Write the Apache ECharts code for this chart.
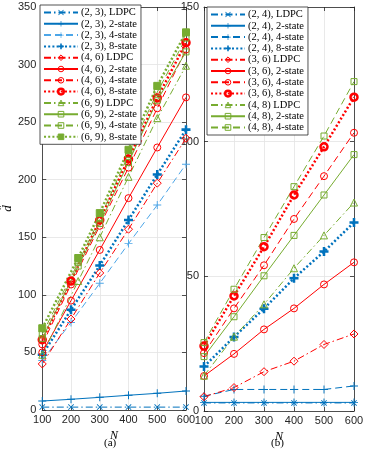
<!DOCTYPE html>
<html>
<head>
<meta charset="utf-8">
<script src="https://cdn.jsdelivr.net/npm/echarts@6/dist/echarts.min.js"></script>
<style>
  html, body { margin: 0; padding: 0; background: #fff; }
  #chart { width: 372px; height: 457px; }
</style>
</head>
<body>
<div id="chart"></div>
<script>
// block length N
const N = [100, 200, 300, 400, 500, 600];
const N69 = [100, 225, 300, 400, 500, 600];

// (a) d-hat values
const a23LDPC = [2.5, 2.5, 2.5, 2.5, 2.5, 2.5];
const a23s2 = [7.8, 9.3, 11, 12.8, 14.5, 16.5];
const a23s4 = [43, 76, 110, 144.5, 178, 213.5];
const a23s8 = [48, 87, 125.5, 165, 204.5, 243.5];
const a46LDPC = [40, 79, 119, 157, 197, 236];
const a46s2 = [50, 95, 139, 184, 228, 271.5];
const a46s4 = [57, 109, 160, 210.5, 262, 313];
const a46s8 = [61, 112, 165, 218, 271, 319];
const a69LDPC = [48, 112, 150, 202.5, 253.5, 299];
const a69s2 = [62, 125, 162, 215, 269, 311];
const a69s4 = [66, 128, 166, 222, 276, 323];
const a69s8 = [71, 132, 171, 226, 281.5, 328];

// (b) d-hat values
const b24LDPC = [3, 3, 3, 3, 3, 3];
const b24s2 = [3.2, 3.2, 3.2, 3.2, 3.2, 3.2];
const b24s4 = [5.5, 8, 8, 8, 8, 9.3];
const b24s8 = [16.5, 27.5, 38, 49.3, 59.2, 70];
const b36LDPC = [5.3, 8.7, 14.6, 18.5, 24.7, 28.6];
const b36s2 = [13, 21.2, 30.3, 38.1, 47, 55.2];
const b36s4 = [21.5, 38.1, 54.1, 71.3, 87.2, 103.3];
const b36s8 = [24.1, 42.7, 61, 80.2, 98.1, 116.5];
const b48LDPC = [13.1, 27.6, 39.6, 53, 65.2, 77.4];
const b48s2 = [20.2, 35, 50.2, 65.2, 80.2, 95.2];
const b48s4 = [25.4, 45.2, 64.4, 83.3, 102.1, 122.3];

const BLUE = '#0072BD';
const LBLUE = '#4DA6E8';
const RED = '#FF0000';
const GREEN = '#77AC30';
const AX = '#262626';
const GRIDC = '#e3e3e3';
const SANS = 'Liberation Sans, Arial, sans-serif';
const SERIF = 'Liberation Serif, Times New Roman, serif';

const DASHDOT = [7, 3, 1.5, 3];
const DASH = [7, 4];
const DOT = [2, 2.2];

const PLUS = 'path://M4.4,0H5.6V4.4H10V5.6H5.6V10H4.4V5.6H0V4.4H4.4Z';
const PLUSB = 'path://M3.6,0H6.4V3.6H10V6.4H6.4V10H3.6V6.4H0V3.6H3.6Z';
const XSYM = 'path://M0,1L1,0L5,4L9,0L10,1L6,5L10,9L9,10L5,6L1,10L0,9L4,5Z';
const CLEAR = 'rgba(0,0,0,0)';

function line(name, xs, ys, color, dash, width, symbol, size, filled, bw, ax) {
  return {
    name: name,
    type: 'line',
    xAxisIndex: ax,
    yAxisIndex: ax,
    data: xs.map((x, i) => [x, ys[i]]),
    symbol: symbol,
    symbolSize: size,
    showAllSymbol: true,
    lineStyle: { color: color, width: width, type: dash },
    itemStyle: { color: filled ? color : CLEAR, borderColor: color, borderWidth: bw },
    emphasis: { disabled: true }
  };
}

const seriesA = [
  line('(2, 3), LDPC', N, a23LDPC, BLUE, DASHDOT, 1, XSYM, 6, true, 0, 0),
  line('(2, 3), 2-state', N, a23s2, BLUE, 'solid', 1, PLUS, 8, true, 0, 0),
  line('(2, 3), 4-state', N, a23s4, LBLUE, DASH, 1, PLUS, 8, true, 0, 0),
  line('(2, 3), 8-state', N, a23s8, BLUE, DOT, 2.5, PLUSB, 9, true, 0, 0),
  line('(4, 6) LDPC', N, a46LDPC, RED, DASHDOT, 1, 'diamond', 8, false, 1, 0),
  line('(4, 6), 2-state', N, a46s2, RED, 'solid', 1, 'circle', 7, false, 1, 0),
  line('(4, 6), 4-state', N, a46s4, RED, DASH, 1, 'circle', 7, false, 1, 0),
  line('(4, 6), 8-state', N, a46s8, RED, DOT, 2.5, 'circle', 7, false, 2.5, 0),
  line('(6, 9) LDPC', N69, a69LDPC, GREEN, DASHDOT, 1, 'triangle', 7, false, 1, 0),
  line('(6, 9), 2-state', N69, a69s2, GREEN, 'solid', 1, 'rect', 6, false, 1, 0),
  line('(6, 9), 4-state', N69, a69s4, GREEN, DASH, 1, 'rect', 6, false, 1, 0),
  line('(6, 9), 8-state', N69, a69s8, GREEN, DOT, 2.5, 'rect', 7, true, 1, 0)
];

const seriesB = [
  line('(2, 4), LDPC', N, b24LDPC, BLUE, DASHDOT, 1, XSYM, 6, true, 0, 2),
  line('(2, 4), 2-state', N, b24s2, BLUE, 'solid', 1, PLUS, 8, true, 0, 2),
  line('(2, 4), 4-state', N, b24s4, BLUE, DASH, 1, PLUS, 8, true, 0, 2),
  line('(2, 4), 8-state', N, b24s8, BLUE, DOT, 2.5, PLUSB, 9, true, 0, 2),
  line('(3, 6) LDPC', N, b36LDPC, RED, DASHDOT, 1, 'diamond', 8, false, 1, 2),
  line('(3, 6), 2-state', N, b36s2, RED, 'solid', 1, 'circle', 7, false, 1, 2),
  line('(3, 6), 4-state', N, b36s4, RED, DASH, 1, 'circle', 7, false, 1, 2),
  line('(3, 6), 8-state', N, b36s8, RED, DOT, 2.5, 'circle', 7, false, 2.5, 2),
  line('(4, 8) LDPC', N, b48LDPC, GREEN, DASHDOT, 1, 'triangle', 7, false, 1, 2),
  line('(4, 8), 2-state', N, b48s2, GREEN, 'solid', 1, 'rect', 6, false, 1, 2),
  line('(4, 8), 4-state', N, b48s4, GREEN, DASH, 1, 'rect', 6, false, 1, 2)
];

function xAx(grid, pos, label) {
  return {
    gridIndex: grid, type: 'value', min: 100, max: 600, interval: 100, position: pos,
    axisLine: { show: true, onZero: false, lineStyle: { color: AX, width: 0.8 } },
    axisTick: { show: true, inside: true, length: 4, lineStyle: { color: AX, width: 0.8 } },
    axisLabel: { show: label, color: AX, fontSize: 11, fontFamily: SANS, margin: 4 },
    splitLine: { show: label, lineStyle: { color: GRIDC, width: 0.8 } },
    name: label ? 'N' : '', nameLocation: 'middle', nameGap: 14,
    nameTextStyle: { fontFamily: SERIF, fontStyle: 'italic', fontSize: 12, color: '#000' }
  };
}
function yAx(grid, pos, label, max, name, margin) {
  return {
    gridIndex: grid, type: 'value', min: 0, max: max, interval: 50, position: pos,
    axisLine: { show: true, onZero: false, lineStyle: { color: AX, width: 0.8 } },
    axisTick: { show: true, inside: true, length: 4, lineStyle: { color: AX, width: 0.8 } },
    axisLabel: { show: label, color: AX, fontSize: 11, fontFamily: SANS, margin: margin },
    splitLine: { show: label, lineStyle: { color: GRIDC, width: 0.8 } },
    name: name, nameLocation: 'middle', nameGap: 27, nameRotate: 90,
    nameTextStyle: { fontFamily: SERIF, fontStyle: 'italic', fontSize: 13, color: '#000' }
  };
}
function leg(list, left, top) {
  return {
    data: list.map(s => ({ name: s.name, itemStyle: s.itemStyle })),
    orient: 'vertical', left: left, top: top,
    itemWidth: 34, itemHeight: 7, itemGap: 0.3,
    padding: [2, 4, 2, 3],
    backgroundColor: '#fff', borderColor: AX, borderWidth: 0.8,
    textStyle: { fontFamily: SERIF, fontSize: 10.5, lineHeight: 11, color: '#000', padding: [0, 0, 0, -2] }
  };
}

const chart = echarts.init(document.getElementById('chart'), null, { renderer: 'canvas' });
chart.setOption({
  animation: false,
  backgroundColor: '#fff',
  grid: [
    { left: 38, right: 186, top: 7, bottom: 47 },
    { left: 204, right: 18, top: 7, bottom: 46 }
  ],
  xAxis: [xAx(0, 'bottom', true), xAx(0, 'top', false), xAx(1, 'bottom', true), xAx(1, 'top', false)],
  yAxis: [
    yAx(0, 'left', true, 350, 'd\u0302', 6), yAx(0, 'right', false, 350, '', 6),
    yAx(1, 'left', true, 150, '', 5), yAx(1, 'right', false, 150, '', 5)
  ],
  legend: [leg(seriesA, 40, 5), leg(seriesB, 207, 7)],
  title: [
    { text: '(a)', left: 104, top: 438, textStyle: { fontFamily: SERIF, fontSize: 11, fontWeight: 'normal', color: '#000' }, padding: 0 },
    { text: '(b)', left: 271, top: 438, textStyle: { fontFamily: SERIF, fontSize: 11, fontWeight: 'normal', color: '#000' }, padding: 0 }
  ],
  series: seriesA.concat(seriesB)
});
</script>
</body>
</html>
